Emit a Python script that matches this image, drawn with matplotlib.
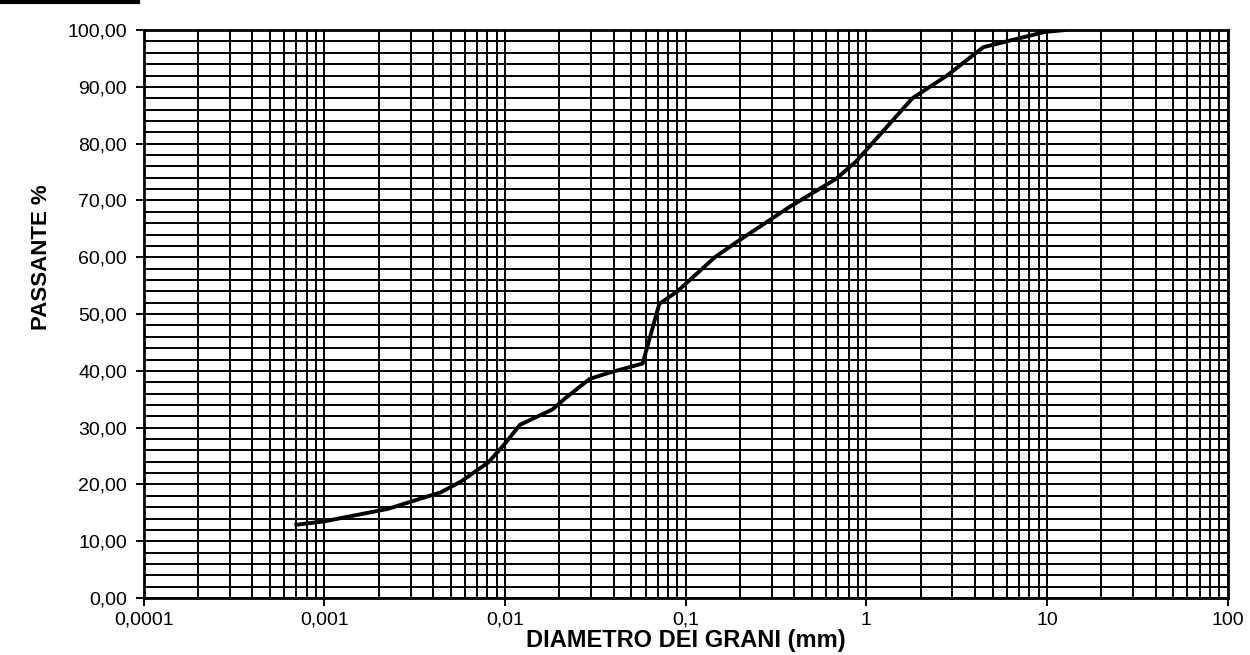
import matplotlib
matplotlib.use("Agg")
import matplotlib.pyplot as plt
from matplotlib.ticker import FixedLocator, FuncFormatter, NullFormatter
from matplotlib.lines import Line2D

plt.rcParams['font.family'] = ['Liberation Sans', 'DejaVu Sans']

# grain size curve
diam = [0.0007, 0.001, 0.00225, 0.0029, 0.0044, 0.0057, 0.0081, 0.0100,
        0.0121, 0.0183, 0.0216, 0.0295, 0.038, 0.0578, 0.0715, 0.090,
        0.145, 0.188, 0.373, 0.68, 0.88, 1.8, 2.8, 4.45, 6.7, 9.8, 12.5]
passante = [12.9, 13.5, 15.7, 16.8, 18.6, 20.5, 23.9, 27.2,
            30.5, 33.2, 35.2, 38.6, 39.7, 41.3, 51.8, 54.0,
            60.0, 62.5, 68.8, 73.8, 76.9, 88.0, 92.0, 97.0, 98.4, 99.7, 100.0]

xticks = [0.0001, 0.001, 0.01, 0.1, 1, 10, 100]
xticklabels = ['0,0001', '0,001', '0,01', '0,1', '1', '10', '100']
yticks = [0, 10, 20, 30, 40, 50, 60, 70, 80, 90, 100]

fig = plt.figure(figsize=(12.5, 6.55), dpi=100)
ax = fig.add_axes([0.115, 0.087, 0.867, 0.867])

ax.set_xscale('log')
ax.set_xlim(0.0001, 100)
ax.set_ylim(0, 100)

# log paper grid: every 1..9 x 10^k vertically, every 2 % horizontally
vgrid = [m * 10.0**k for k in range(-4, 2) for m in range(1, 10)] + [100]
for xv in vgrid:
    ax.axvline(xv, color='black', lw=1.4, zorder=1)
for yv in range(0, 101, 2):
    ax.axhline(yv, color='black', lw=1.4, zorder=1)

ax.plot(diam, passante, color='black', lw=2.8, zorder=3)

ax.xaxis.set_major_locator(FixedLocator(xticks))
ax.xaxis.set_minor_locator(FixedLocator([]))
ax.xaxis.set_minor_formatter(NullFormatter())
ax.set_xticklabels(xticklabels)
ax.set_yticks(yticks)
ax.yaxis.set_major_formatter(FuncFormatter(lambda v, p: ('%.2f' % v).replace('.', ',')))

ax.tick_params(axis='both', direction='out', length=6, width=1.4, colors='black',
               labelsize=14)
ax.tick_params(axis='x', pad=4)
ax.tick_params(axis='y', pad=6)
for s in ax.spines.values():
    s.set_linewidth(2)
    s.set_color('black')

ax.set_xlabel('DIAMETRO DEI GRANI (mm)', fontsize=17, fontweight='bold', labelpad=0)
ax.set_ylabel('PASSANTE %', fontsize=16, fontweight='bold')
ax.yaxis.set_label_coords(-0.085, 0.6)

# bit of the page frame visible at the top left of the scan
fig.add_artist(Line2D([0.0, 0.11], [0.997, 0.997], color='black', lw=3,
                      transform=fig.transFigure))

fig.savefig('out.png', dpi=100, facecolor='white')
